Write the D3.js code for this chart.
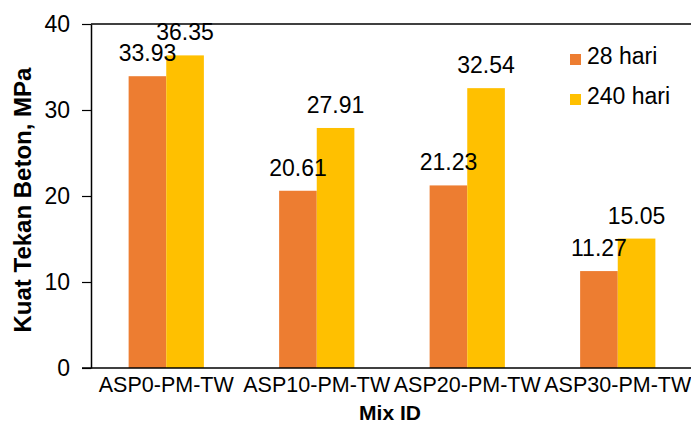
<!DOCTYPE html>
<html><head><meta charset="utf-8">
<script src="https://cdn.jsdelivr.net/npm/d3@7"></script>
<style>body{margin:0;background:#fff}svg{display:block}text{font-family:"Liberation Sans",Arial,sans-serif;fill:#000}</style>
</head><body>
<svg id="c" width="691" height="423"></svg>
<script>
const categories = ["ASP0-PM-TW","ASP10-PM-TW","ASP20-PM-TW","ASP30-PM-TW"];
const seriesNames = ["28 hari","240 hari"];
const values28 = [33.93, 20.61, 21.23, 11.27];
const values240 = [36.35, 27.91, 32.54, 15.05];
const yTicks = [0,10,20,30,40];
const colors = ["#ED7D31","#FFC000"];

const svg = d3.select("#c");
const L = 91, R = 693, T = 24, B = 368;
const x = d3.scaleBand().domain(categories).range([L, R]);
const x1 = d3.scaleBand().domain(seriesNames).range([x.bandwidth()/4, x.bandwidth()*3/4]);
const y = d3.scaleLinear().domain([0,40]).range([B, T]);
const series = [values28, values240];

// top border
svg.append("line").attr("x1",L).attr("x2",R).attr("y1",T).attr("y2",T).attr("stroke","#000").attr("stroke-width",1.5);

const gb = svg.append("g");
const gl = svg.append("g");
categories.forEach((c,i)=>{
  seriesNames.forEach((s,j)=>{
    const v = series[j][i];
    gb.append("rect").attr("x",x(c)+x1(s)).attr("width",x1.bandwidth())
      .attr("y",y(v)).attr("height",y(0)-y(v)).attr("fill",colors[j]);
    gl.append("text").attr("x",x(c)+x1(s)+x1.bandwidth()/2).attr("y",y(v)-15)
      .attr("text-anchor","middle").style("font-size","23px").text(v.toFixed(2));
  });
});

// y axis
const ya = svg.append("g").attr("transform",`translate(${L},0)`)
  .call(d3.axisLeft(y).tickValues(yTicks).tickSize(9).tickPadding(12).tickSizeOuter(0));
ya.select(".domain").attr("stroke","#000").attr("stroke-width",1.5);
ya.selectAll(".tick line").attr("stroke","#000").attr("stroke-width",1.2);
ya.selectAll(".tick text").style("font-size","23px").attr("fill","#000");

// x axis
const xa = svg.append("g").attr("transform",`translate(0,${B})`)
  .call(d3.axisBottom(x).tickSize(0).tickPadding(9).tickSizeOuter(0));
xa.select(".domain").remove();
svg.append("line").attr("x1",L-9).attr("x2",R).attr("y1",B).attr("y2",B).attr("stroke","#000").attr("stroke-width",1.5);
xa.selectAll(".tick text").style("font-size","21.5px").attr("fill","#000");

// titles
svg.append("text").attr("transform","translate(31,200) rotate(-90)").attr("text-anchor","middle")
  .style("font-size","24px").style("font-weight","bold").text("Kuat Tekan Beton, MPa");
svg.append("text").attr("x",390).attr("y",420).attr("text-anchor","middle")
  .style("font-size","21px").style("font-weight","bold").text("Mix ID");

// legend
seriesNames.forEach((s,j)=>{
  const ly = 64 + j*40;
  svg.append("rect").attr("x",570).attr("y",ly-10).attr("width",11).attr("height",11).attr("fill",colors[j]);
  svg.append("text").attr("x",587).attr("y",ly).style("font-size","23px").text(s);
});
</script>
</body></html>
